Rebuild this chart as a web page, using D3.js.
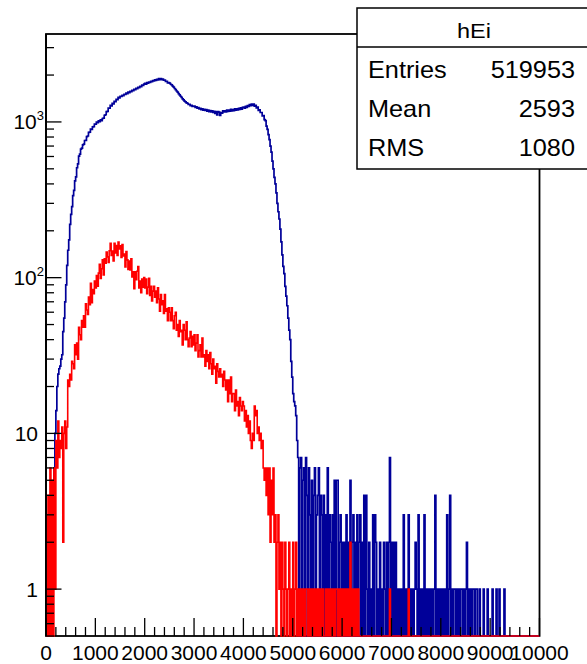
<!DOCTYPE html>
<html>
<head>
<meta charset="utf-8">
<style>
    body { margin: 0; background: white; }
    svg {
        display: block;
        font-family: "Liberation Sans", Arial, Helvetica, sans-serif;
    }
</style>
</head>
<body>
<svg width="587" height="664"></svg>

<script src="https://d3js.org/d3.v7.min.js"></script>
<script>
    // bin width (x units) used when reading the two histograms off the picture
    const binWidth = 20;

    // dark blue histogram, counts per bin starting at x = 0 (one row = 500 units)
    const blueCounts = [
        0,0,0,0,2, 1,3,4,6,10, 14,20,24,26,27, 30,32,45,55,70, 90,120,150,175,220,
        255,286,336,364,418, 444,508,538,604,622, 668,678,712,720,760, 762,804,812,856,860, 900,896,930,932,970,
        968,996,988,1016,1004, 1032,1018,1052,1058,1104, 1112,1166,1170,1228,1224, 1276,1268,1318,1308,1356, 1350,1398,1388,1438,1426,
        1462,1458,1484,1476,1506, 1500,1530,1522,1552,1544, 1574,1566,1596,1588,1620, 1612,1644,1636,1670,1660, 1694,1688,1722,1714,1748,
        1766,1750,1786,1772,1800, 1794,1822,1812,1842,1832, 1862,1850,1880,1864,1896, 1872,1898,1870,1884,1852, 1856,1818,1820,1784,1786,
        1776,1746,1728,1700,1672, 1640,1612,1580,1552,1520, 1494,1462,1436,1406,1384, 1360,1344,1326,1318,1296, 1296,1274,1276,1256,1264,
        1262,1240,1248,1224,1236, 1212,1224,1200,1214,1190, 1206,1184,1198,1172,1190, 1166,1184,1160,1176,1150, 1170,1136,1166,1110,1164,
        1156,1100,1150,1140,1176, 1158,1180,1162,1192,1170, 1190,1172,1204,1178,1200, 1182,1212,1190,1214,1196, 1222,1204,1230,1210,1240,
        1244,1226,1258,1240,1272, 1256,1292,1270,1304,1278, 1300,1264,1280,1230,1244, 1186,1196,1150,1150,1095, 1098,1035,1020,940,895,
        830,770,700,640,560, 500,440,400,350,300, 265,238,205,170,140, 118,106,88,76,66, 55,46,40,29,23,
        18,16,15,13,9, 7,0,6,7,0, 5,6,0,7,4, 0,6,3,0,5, 0,4,6,0,3,
        4,6,0,4,3, 0,4,0,3,0, 6,0,3,2,0, 3,0,5,0,5, 5,0,2,3,0,
        2,0,2,0,3, 0,2,0,5,0, 2,3,0,2,0, 3,0,2,3,0, 2,0,4,0,4,
        1,0,2,0,1, 0,3,0,3,2, 0,1,0,2,0, 1,0,2,1,0, 2,0,2,7,0,
        2,0,2,0,2, 0,1,0,1,0, 1,0,3,0,1, 0,1,3,0,1, 0,1,0,1,2,
        1,0,3,0,1, 0,1,0,3,0, 1,0,1,0,1, 0,1,0,1,4, 0,1,0,1,0,
        1,0,1,0,1, 0,3,0,1,4, 0,1,0,1,1, 0,1,0,1,0, 1,1,0,1,0,
        1,2,0,1,0, 1,0,1,1,0, 1,1,0,0,1, 0,0,0,1,0, 0,0,1,0,0,
        0,0,1,0,0, 0,1,0,0,1, 0,0,0,0,1
    ];

    // red histogram, same binning
    const redCounts = [
        3,0,4,0,6, 0,5,0,6,1, 9,6,12,7,9, 8,11,2,10,12, 8,11,22,20,24,
        22,29,28,26,37, 32,38,30,48,43, 40,53,48,57,48, 68,62,58,75,67, 92,69,84,79,95,
        86,103,88,107,122, 99,114,130,104,132, 124,146,136,125,149, 166,139,148,128,166, 144,161,139,169,153,
        160,135,163,138,142, 117,147,130,113,128, 112,132,101,109,85, 109,97,110,118,86, 95,80,98,87,100,
        86,98,79,87,99, 77,88,71,82,88, 75,82,69,86,73, 61,78,67,71,59, 78,61,63,53,64,
        60,53,64,53,47, 57,60,46,50,42, 53,45,46,37,50, 46,40,52,40,36, 41,45,36,42,37,
        43,34,38,43,31, 34,37,31,41,31, 32,27,34,29,32, 26,33,28,24,30, 26,27,21,28,25,
        23,26,23,24,20, 25,22,19,22,16, 22,18,23,16,18, 18,14,19,15,16, 13,17,15,14,16,
        15,12,14,11,13, 10,12,9,8,10, 9,15,13,14,10, 11,9,10,8,9, 6,5,6,4,6,
        3,6,2,5,3, 6,2,3,0,2, 3,1,2,0,2, 1,0,2,1,0, 1,2,0,1,0,
        2,0,1,2,0, 1,0,1,0,1, 0,1,0,1,1, 0,1,0,1,0, 1,0,1,0,1,
        0,1,0,1,0, 1,0,0,1,0, 1,0,1,0,1, 0,1,0,1,1, 0,1,0,1,0,
        1,0,1,0,1, 0,1,0,2,0, 1,0,1,0,1, 0,1,0,0,0, 0,0,0,0,0,
        0,0,0,0,0, 0,0,0,0,0, 0,0,0,0,0, 0,0,0,0,0, 0,0,0,1,0,
        0,0,0,0,0, 0,0,0,0,0, 0,0,0,0,0, 0,0,1
    ];

    const xMajorTicks = [0, 1000, 2000, 3000, 4000, 5000, 6000, 7000, 8000, 9000, 10000];
    const yMajorTicks = [1, 10, 100, 1000];

    const histTitle = "hEi";
    const statNames = ["Entries", "Mean", "RMS"];
    const statValues = ["519953", "2593", "1080"];

    let frame = { left: 46, right: 539.5, top: 34, bottom: 636 };

    let svg = d3.select("svg");

    let x = d3.scaleLinear()
        .domain([0, 10000])
        .range([frame.left, frame.right]);

    let y = d3.scaleLog()
        .domain([0.5, 3670])
        .range([frame.bottom, frame.top]);

    // empty bins sit on the bottom of the frame, like a log-scale ROOT histogram
    function yPos(v) {
        if (!(v > 0)) return frame.bottom;
        return Math.max(frame.top, Math.min(frame.bottom, y(v)));
    }

    function histPath(counts) {
        let nBins = Math.round(10000 / binWidth);
        let p = d3.path();
        p.moveTo(x(0), yPos(counts[0] || 0));
        for (let i = 0; i < nBins; i++) {
            let v = counts[i] || 0;
            p.lineTo(x(i * binWidth), yPos(v));
            p.lineTo(x((i + 1) * binWidth), yPos(v));
        }
        return p.toString();
    }

    // frame
    svg.append("rect")
        .attr("x", frame.left)
        .attr("y", frame.top)
        .attr("width", frame.right - frame.left)
        .attr("height", frame.bottom - frame.top)
        .style("fill", "none")
        .style("stroke", "#000")
        .style("stroke-width", 1.8)

    // histograms, blue first then red on top
    svg.append("path")
        .attr("d", histPath(blueCounts))
        .style("fill", "none")
        .style("stroke", "#000099")
        .style("stroke-width", 1.7)

    svg.append("path")
        .attr("d", histPath(redCounts))
        .style("fill", "none")
        .style("stroke", "#ff0000")
        .style("stroke-width", 1.6)

    // x ticks (inside, pointing up)
    let xTicks = d3.range(0, 10001, 200);
    svg.selectAll(".xtick")
        .data(xTicks)
        .join("line")
        .attr("class", "xtick")
        .attr("x1", d => x(d))
        .attr("x2", d => x(d))
        .attr("y1", frame.bottom)
        .attr("y2", d => frame.bottom - (d % 1000 === 0 ? 18 : 9))
        .style("stroke", "#000")
        .style("stroke-width", 1.3)

    // y ticks (inside, pointing right)
    svg.selectAll(".ytick")
        .data(y.ticks())
        .join("line")
        .attr("class", "ytick")
        .attr("x1", frame.left)
        .attr("x2", d => frame.left + (yMajorTicks.includes(d) ? 15.5 : 8))
        .attr("y1", d => y(d))
        .attr("y2", d => y(d))
        .style("stroke", "#000")
        .style("stroke-width", 1.3)

    // left axis line on top of the histograms
    svg.append("line")
        .attr("x1", frame.left)
        .attr("x2", frame.left)
        .attr("y1", frame.top)
        .attr("y2", frame.bottom)
        .style("stroke", "#000")
        .style("stroke-width", 1.8)

    // x labels
    svg.selectAll(".xlabel")
        .data(xMajorTicks)
        .join("text")
        .attr("class", "xlabel")
        .attr("x", d => x(d))
        .attr("y", 660)
        .attr("text-anchor", "middle")
        .style("font-size", "21px")
        .text(d => d)

    // y labels: 1 and 10 as plain numbers, higher decades as powers of ten
    let ylab = svg.selectAll(".ylabel")
        .data(yMajorTicks)
        .join("text")
        .attr("class", "ylabel")
        .attr("y", d => y(d) + 7.5)
        .attr("text-anchor", "end")
        .style("font-size", "21px")

    ylab.filter(d => d < 100)
        .attr("x", 38)
        .text(d => d)

    ylab.filter(d => d >= 100)
        .attr("x", 44)
        .each(function (d) {
            let t = d3.select(this);
            t.append("tspan").text("10");
            t.append("tspan")
                .attr("dy", -9)
                .style("font-size", "13px")
                .text(Math.round(Math.log10(d)));
        })

    // stats box
    let box = { left: 357, top: 8, right: 592, head: 47, bottom: 169 };

    svg.append("rect")
        .attr("x", box.left)
        .attr("y", box.top)
        .attr("width", box.right - box.left)
        .attr("height", box.bottom - box.top)
        .style("fill", "white")
        .style("stroke", "#000")
        .style("stroke-width", 1.5)

    svg.append("line")
        .attr("x1", box.left)
        .attr("x2", box.right)
        .attr("y1", box.head)
        .attr("y2", box.head)
        .style("stroke", "#000")
        .style("stroke-width", 1.5)

    svg.append("text")
        .attr("transform", "translate(474,38) scale(1.12,1)")
        .attr("text-anchor", "middle")
        .style("font-size", "21px")
        .text(histTitle)

    let rowY = [77.5, 117, 156];

    svg.selectAll(".statname")
        .data(statNames)
        .join("text")
        .attr("class", "statname")
        .attr("transform", (d, i) => "translate(368," + rowY[i] + ") scale(1.1,1)")
        .style("font-size", "23px")
        .text(d => d)

    svg.selectAll(".statvalue")
        .data(statValues)
        .join("text")
        .attr("class", "statvalue")
        .attr("transform", (d, i) => "translate(575," + rowY[i] + ") scale(1.1,1)")
        .attr("text-anchor", "end")
        .style("font-size", "23px")
        .text(d => d)
</script>
</body>
</html>
